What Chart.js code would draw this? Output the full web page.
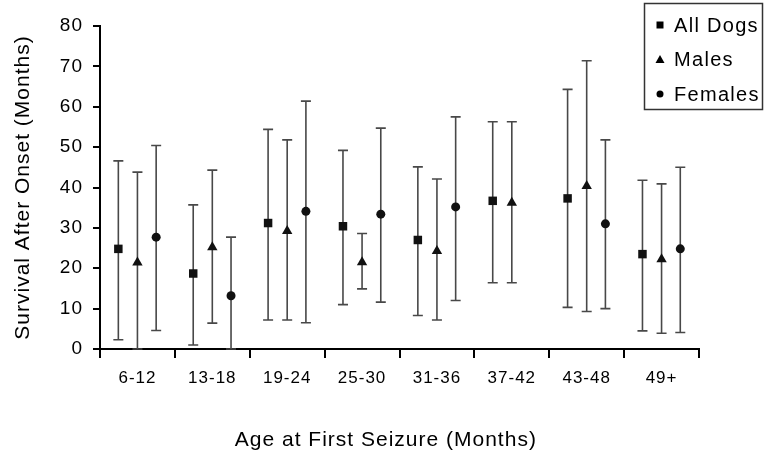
<!DOCTYPE html>
<html>
<head>
<meta charset="utf-8">
<script src="https://cdn.jsdelivr.net/npm/chart.js"></script>
<style>
	body { margin: 0; background: #fff; }
	#wrap { width: 768px; height: 462px; position: relative; }
</style>
</head>
<body>
<div id="wrap"><canvas id="chart-area"></canvas></div>
<script>
// age groups
var categories = ['6-12', '13-18', '19-24', '25-30', '31-36', '37-42', '43-48', '49+'];

// mean survival and the ends of the error bars (months)
var allDogs = [24.8, 18.7, 31.2, 30.4, 27.0, 36.7, 37.3, 23.5];
var allDogsLow = [2.3, 1.0, 7.2, 11.0, 8.3, 16.4, 10.3, 4.5];
var allDogsHigh = [46.6, 35.7, 54.4, 49.2, 45.1, 56.3, 64.3, 41.8];

var males = [21.4, 25.2, 29.2, 21.5, 24.3, 36.2, 40.4, 22.2];
var malesLow = [0, 6.4, 7.2, 14.9, 7.2, 16.4, 9.3, 3.9];
var malesHigh = [43.8, 44.3, 51.8, 28.6, 42.1, 56.3, 71.4, 40.9];

var females = [27.7, 13.2, 34.1, 33.4, 35.2, null, 31.0, 24.8];
var femalesLow = [4.6, 0, 6.5, 11.6, 12.0, null, 10.0, 4.1];
var femalesHigh = [50.4, 27.7, 61.4, 54.7, 57.5, null, 51.8, 45.0];

var yTicks = [0, 10, 20, 30, 40, 50, 60, 70, 80];

var ink = '#000';
var fontName = '"Liberation Sans", Arial, sans-serif';

function points(values, shift) {
	var out = [];
	for (var i = 0; i < values.length; i++) {
		if (values[i] !== null) out.push({ x: i + shift, y: values[i] });
	}
	return out;
}

function ends(values) {
	return values.filter(function(v) { return v !== null; });
}

function makeSet(label, values, low, high, shift, style, radius) {
	return {
		label: label,
		data: points(values, shift),
		errLow: ends(low),
		errHigh: ends(high),
		xAxisID: 'xv',
		pointStyle: style,
		pointRadius: radius,
		pointHoverRadius: radius,
		backgroundColor: '#111',
		borderColor: '#111',
		borderWidth: 0
	};
}

// error bars behind the markers
var errorBars = {
	id: 'errorBars',
	beforeDatasetsDraw: function(chart) {
		var ctx = chart.ctx;
		var y = chart.scales.y;
		ctx.save();
		ctx.strokeStyle = '#484848';
		ctx.lineWidth = 1.6;
		chart.data.datasets.forEach(function(ds, d) {
			var meta = chart.getDatasetMeta(d);
			meta.data.forEach(function(pt, i) {
				var x = pt.x;
				var top = y.getPixelForValue(ds.errHigh[i]);
				var bot = y.getPixelForValue(ds.errLow[i]);
				ctx.beginPath();
				ctx.moveTo(x, top); ctx.lineTo(x, bot);
				ctx.moveTo(x - 5, top); ctx.lineTo(x + 5, top);
				ctx.moveTo(x - 5, bot); ctx.lineTo(x + 5, bot);
				ctx.stroke();
			});
		});
		ctx.restore();
	}
};

// boxed legend sitting over the top right corner
var boxLegend = {
	id: 'boxLegend',
	afterDraw: function(chart) {
		var ctx = chart.ctx;
		ctx.save();
		ctx.strokeStyle = '#333';
		ctx.lineWidth = 1.5;
		ctx.strokeRect(644.5, 3.5, 118, 106);
		ctx.fillStyle = ink;
		ctx.font = '20px ' + fontName;
		ctx.textBaseline = 'middle';
		ctx.letterSpacing = '1.3px';
		chart.data.datasets.forEach(function(ds, i) {
			var cy = 25 + i * 34.5;
			var cx = 660;
			ctx.beginPath();
			if (ds.pointStyle === 'rect') {
				ctx.rect(cx - 3.5, cy - 3.5, 7, 7);
			} else if (ds.pointStyle === 'triangle') {
				ctx.moveTo(cx, cy - 4.5); ctx.lineTo(cx + 4.5, cy + 3.5); ctx.lineTo(cx - 4.5, cy + 3.5); ctx.closePath();
			} else {
				ctx.arc(cx, cy, 3.5, 0, Math.PI * 2);
			}
			ctx.fill();
			ctx.fillText(ds.label, 674, cy + 1);
		});
		ctx.restore();
	}
};

// spaced lettering like the original
var spacing = {
	id: 'spacing',
	beforeLayout: function(chart) { chart.ctx.letterSpacing = '1px'; },
	beforeDraw: function(chart) { chart.ctx.letterSpacing = '1px'; }
};

var config = {
	type: 'scatter',
	data: {
		datasets: [
			makeSet('All Dogs', allDogs, allDogsLow, allDogsHigh, -0.255, 'rect', 6),
			makeSet('Males', males, malesLow, malesHigh, 0, 'triangle', 6),
			makeSet('Females', females, femalesLow, femalesHigh, 0.25, 'circle', 4.5)
		]
	},
	options: {
		responsive: true,
		maintainAspectRatio: false,
		animation: false,
		layout: { padding: { top: 26, right: 69, bottom: 0, left: 0 } },
		plugins: {
			legend: { display: false },
			tooltip: { enabled: false }
		},
		scales: {
			x: {
				type: 'category',
				labels: categories,
				offset: true,
				position: 'bottom',
				afterFit: function(scale) { scale.height = 113; },
				border: { color: ink, width: 2 },
				grid: { offset: true, drawOnChartArea: false, drawTicks: true, tickLength: 9, tickColor: ink, lineWidth: 2 },
				ticks: { color: ink, font: { family: fontName, size: 17 }, padding: 10, maxRotation: 0 },
				title: {
					display: true,
					// trailing spaces pull the title a little left, as in the original
					text: 'Age at First Seizure (Months)\u00a0\u00a0\u00a0\u00a0',
					color: ink,
					font: { family: fontName, size: 21 },
					padding: { top: 0, bottom: 9 }
				}
			},
			xv: {
				type: 'linear',
				display: false,
				min: -0.5,
				max: 7.5
			},
			y: {
				min: 0,
				max: 80,
				afterFit: function(scale) { scale.width = 100; },
				afterBuildTicks: function(scale) {
					scale.ticks = yTicks.map(function(v) { return { value: v }; });
				},
				border: { color: ink, width: 2 },
				grid: { drawOnChartArea: false, drawTicks: true, tickLength: 7, tickColor: ink, lineWidth: 2 },
				ticks: { color: ink, font: { family: fontName, size: 19 }, padding: 10 },
				title: {
					display: true,
					text: 'Survival After Onset (Months)',
					color: ink,
					font: { family: fontName, size: 21 },
					padding: { top: 11, bottom: 0 }
				}
			}
		}
	},
	plugins: [spacing, errorBars, boxLegend]
};

window.onload = function() {
	var ctx = document.getElementById('chart-area').getContext('2d');
	window.myChart = new Chart(ctx, config);
};
</script>
</body>
</html>
